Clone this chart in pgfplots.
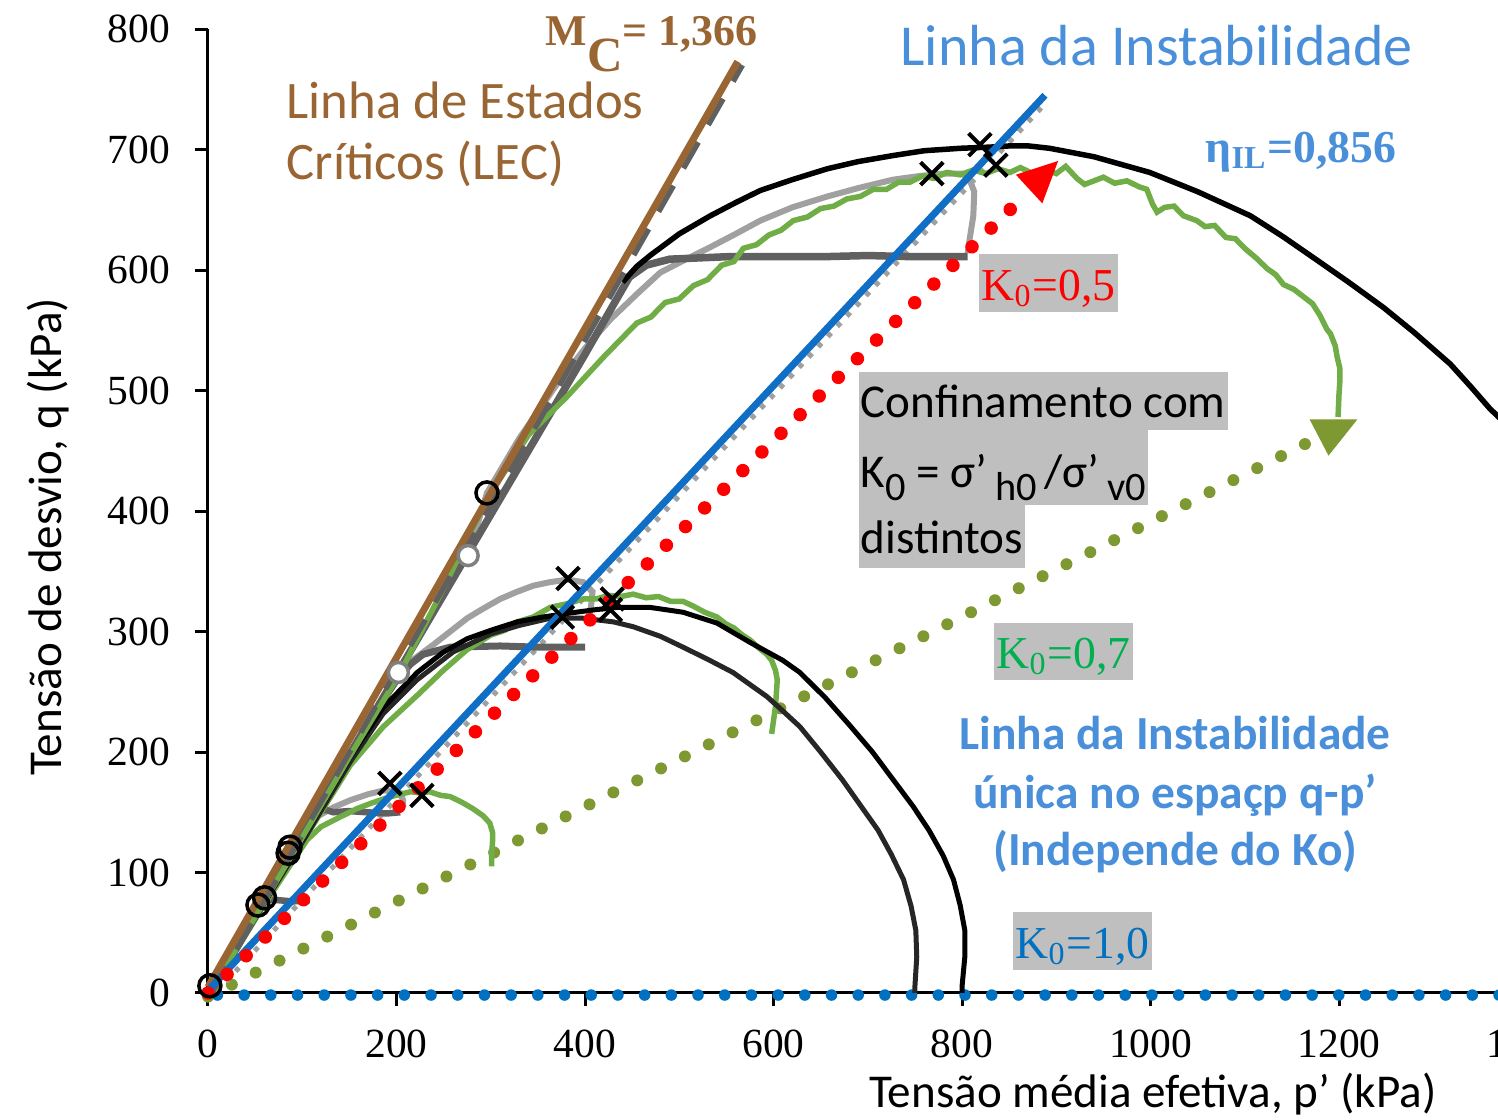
\documentclass[border=0pt]{standalone}
\usepackage{fontspec}
\setmainfont{Carlito}
\newfontfamily\tnr{Liberation Serif}
\usepackage{pgfplots}
\pgfplotsset{compat=1.18}

\definecolor{lecbrown}{RGB}{153,102,51}
\definecolor{ilblue}{RGB}{16,110,196}
\definecolor{txtblue}{RGB}{74,143,217}
\definecolor{kblue}{RGB}{0,112,192}
\definecolor{kgreen}{RGB}{0,176,80}
\definecolor{olive}{RGB}{126,152,50}
\definecolor{gcurve}{RGB}{112,173,71}
\definecolor{dgray}{RGB}{96,96,96}
\definecolor{lgray}{RGB}{160,160,160}
\definecolor{boxgray}{RGB}{191,191,191}

\newcommand\lsub[1]{\raisebox{-0.55ex}{\fontsize{11.5}{12}\selectfont #1}}

\begin{document}
\begin{tikzpicture}
\begin{axis}[
  scale only axis, width=131.95mm, height=96.4mm,
  xmin=0, xmax=1400, ymin=0, ymax=800,
  axis lines*=left, clip=false,
  axis line style={black, line width=0.3mm},
  tick align=outside, major tick length=1.25mm,
  tick style={black, line width=0.3mm},
  xtick={0,200,...,1400}, ytick={0,100,...,800},
  /pgf/number format/assume math mode=true,
  /pgf/number format/1000 sep={},
  tick label style={font=\tnr\fontsize{11.8}{13}\selectfont},
  xticklabel style={anchor=base, inner sep=0pt, yshift=-5.2mm},
  yticklabel style={anchor=east, inner sep=0pt, xshift=-2.5mm},
  label style={font=\fontsize{13.4}{16}\selectfont},
  xlabel={Tensão média efetiva, p’ (kPa)},
  xlabel style={at={(axis description cs:0.716,-0.1193)}, anchor=base, inner sep=0pt},
  ylabel={Tensão de desvio, q (kPa)},
  ylabel style={at={(axis description cs:-0.1107,0.473)}, anchor=base, inner sep=0pt},
]
\coordinate (O) at (axis cs:0,0);

% K0 stress paths (dotted)
\addplot[olive, line width=1.2mm, line cap=round, dash pattern=on 0pt off 2.67mm] coordinates {(0,-3) (1165,456)};
\addplot[kblue, line width=1.15mm, line cap=round, dash pattern=on 0pt off 2.67mm] coordinates {(10,-1.7) (1400,-1.7)};
\addplot[lgray, line width=0.5mm, dash pattern=on 0.5mm off 0.9mm] coordinates {(9,1) (887,737)};

% lower set
\addplot[dgray, line width=0.65mm] coordinates {(2,0)(40,52)(60,78)(75,77)(90,76)(108,77)};
\addplot[lgray, line width=0.6mm] coordinates {(2,0)(50,62)(98,127)(115,146)(133,154)(151,160)(170,165)(186,168)(198,168)(204,166)(207,160)(207,154)};
\addplot[dgray, line width=0.65mm] coordinates {(2,0)(40,52)(80,105)(112,150)(125,152)(133,150)(150,151)(168,150)(190,149)(204,150)};
\addplot[gcurve, line width=0.55mm] coordinates {(2,0)(50,62)(105,127)(120,138)(140,146)(158,153)(175,158)(190,162)(204,165)(215,167)(225,166)(235,167)(247,164)(257,163)(270,158)(281,153)(292,147)(299,141)(302,133)(302,127)(301,115)(301,105)};

% middle set
\addplot[lgray, line width=0.6mm] coordinates {(202,266)(220,278)(239,289)(257,300)(275,311)(292,319)(310,327)(328,333)(345,338)(363,341)(381,343)(398,341)(408,333)(406,318)(402,308)};
\addplot[dgray, line width=0.7mm] coordinates {(2,0)(60,78)(120,158)(170,224)(202,262)(215,273)(228,281)(257,287)(310,288)(350,287)(400,287)};
\addplot[gcurve, line width=0.55mm] coordinates {(2,0)(50,61)(100,125)(151,189)(186,221)(222,247)(250,268)(275,285)(300,297)(315,301)(328,308)(345,312)(363,320)(381,323)(398,327)(412,327)(425,330)(438,329)(451,331)(465,328)(478,329)(491,325)(504,325)(515,321)(527,316)(540,312)(550,306)(558,303)(567,297)(575,293)(585,286)(593,281)(598,276)(602,268)(604,260)(603,248)(602,237)(600,226)(598,215)};
\addplot[black!85, line width=0.5mm] coordinates {(2,0)(60,75)(100,125)(151,192)(186,232)(222,260)(260,283)(300,298)(330,305)(363,311)(398,311)(430,308)(451,304)(480,296)(504,287)(530,277)(557,266)(575,256)(593,246)(610,234)(628,221)(650,200)(673,177)(692,156)(711,135)(725,115)(738,94)(746,72)(751,52)(752,30)(750,5)(750,0)};
\addplot[black, line width=0.5mm] coordinates {(2,0)(60,75)(100,128)(130,168)(151,196)(186,237)(222,266)(250,283)(275,294)(300,301)(328,308)(355,312)(381,315)(410,318)(434,320)(469,320)(504,316)(540,307)(575,291)(610,276)(628,266)(655,245)(681,222)(705,200)(727,177)(748,155)(765,135)(780,114)(791,94)(798,73)(803,52)(803,30)(800,5)(800,0)};

% upper set
\addplot[lgray, line width=0.6mm] coordinates {(276,363)(296,415)(330,460)(370,505)(400,535)(427,559)(455,580)(480,598)(505,608)(533,619)(560,630)(586,641)(620,652)(657,661)(690,668)(727,675)(755,678)(780,680)(800,680)(808,675)(813,665)(812,645)(808,625)(806,614)};
\addplot[dgray, line width=0.75mm] coordinates {(2,0)(100,131)(200,264)(300,397)(400,530)(430,571)(447,594)(465,604)(490,609)(550,611)(600,611)(650,611)(700,612)(750,611)(806,611)};
\addplot[gcurve, line width=0.55mm] coordinates {(2,0)(50,63)(100,129)(150,196)(202,263)(250,336)(296,410)(340,463)(381,495)(420,528)(455,556)(470,561)(485,573)(500,576)(515,587)(530,592)(545,604)(558,607)(568,618)(582,621)(595,629)(608,633)(621,641)(636,644)(650,651)(664,653)(678,659)(692,661)(706,667)(720,667)(733,673)(745,673)(758,678)(770,676)(784,681)(798,679)(812,683)(825,680)(838,684)(851,681)(862,685)(875,680)(887,684)(900,680)(910,686)(922,676)(930,671)(940,674)(950,677)(962,672)(975,674)(988,669)(996,667)(1002,655)(1007,648)(1015,652)(1025,653)(1035,645)(1049,641)(1058,636)(1068,637)(1080,627)(1090,626)(1100,618)(1112,610)(1124,601)(1133,596)(1141,588)(1152,584)(1162,578)(1172,572)(1180,562)(1187,551)(1191,547)(1196,537)(1198,528)(1201,518)(1201,509)(1200,497)(1199,478)};
\addplot[black, line width=0.55mm] coordinates {(440,590)(455,603)(469,612)(500,630)(533,645)(560,656)(586,666)(620,675)(657,684)(690,690)(727,695)(760,699)(798,701)(830,702)(851,703)(870,703)(893,701)(940,694)(999,681)(1050,665)(1106,645)(1140,628)(1177,608)(1210,590)(1247,569)(1280,548)(1318,522)(1340,503)(1360,485)(1372,476)};

% critical state line
\addplot[dgray, line width=0.55mm, dash pattern=on 3mm off 2mm] coordinates {(4,0) (567,770)};
\addplot[lecbrown, line width=0.7mm] coordinates {(0,5) (562,773)};
% instability line
\addplot[ilblue, line width=0.7mm] coordinates {(0,2) (888,745)};

% K0 = 0.5 path and arrows
\addplot[red, line width=1.35mm, line cap=round, dash pattern=on 0pt off 2.67mm] coordinates {(0,0) (860,657)};
\addplot[fill=red, draw=red] coordinates {(858.5,678.8) (900.8,689.6) (884.9,656.4)} -- cycle;
\addplot[fill=olive, draw=olive] coordinates {(1170,475.5) (1218,475.5) (1189,447)} -- cycle;

% markers
\addplot[only marks, mark=o, mark size=1.1mm, black, line width=0.35mm] coordinates {(296,415)(87,121)(85,116)(60,79)(53,73)(2,6)};
\addplot[only marks, mark=*, mark size=1mm, draw=gray, fill=white, line width=0.35mm] coordinates {(202,266)(276,363)};
\addplot[only marks, mark=x, mark size=1.6mm, black, line width=0.4mm] coordinates {(819,704)(768,680)(836,687)(382,344)(376,312)(429,327)(427,318)(193,174)(227,164)};

% annotations
\node[anchor=base west, inner sep=0pt, text=lecbrown, font=\tnr\bfseries\fontsize{12.5}{14}\selectfont] at (axis cs:357.6,786.7) {M\raisebox{-0.6em}{\fontsize{14}{14}\selectfont C}= 1,366};
\node[anchor=base west, inner sep=0pt, text=lecbrown, font=\fontsize{15}{18}\selectfont] at (axis cs:82.8,726) {Linha de Estados};
\node[anchor=base west, inner sep=0pt, text=lecbrown, font=\fontsize{15}{18}\selectfont] at (axis cs:82.8,674.7) {Críticos (LEC)};
\node[anchor=base west, inner sep=0pt, text=txtblue, font=\fontsize{16.5}{19}\selectfont] at (axis cs:734,770) {Linha da Instabilidade};
\node[anchor=base west, inner sep=0pt, text=txtblue, font=\tnr\bfseries\fontsize{13}{15}\selectfont] at (axis cs:1057.8,689.6) {η\textsubscript{IL}=0,856};

\node[anchor=base west, fill=boxgray, inner xsep=0.3mm, inner ysep=0pt, text height=4.6mm, text depth=1.2mm, text=red, font=\tnr\fontsize{13}{15}\selectfont] at (axis cs:817,575) {K\textsubscript{0}=0,5};
\node[anchor=base west, fill=boxgray, inner xsep=0.3mm, inner ysep=0pt, text height=4.5mm, text depth=1.2mm, text=kgreen, font=\tnr\fontsize{13}{15}\selectfont] at (axis cs:832.9,269.7) {K\textsubscript{0}=0,7};
\node[anchor=base west, fill=boxgray, inner xsep=0.3mm, inner ysep=0pt, text height=4.6mm, text depth=1.2mm, text=kblue, font=\tnr\fontsize{13}{15}\selectfont] at (axis cs:853,29) {K\textsubscript{0}=1,0};

\node[anchor=base west, fill=boxgray, inner xsep=0.2mm, inner ysep=0pt, text height=4.6mm, text depth=1.2mm, font=\fontsize{13.4}{16}\selectfont] at (axis cs:689.7,477.2) {Confinamento com};
\node[anchor=base west, fill=boxgray, inner xsep=0.2mm, inner ysep=0pt, text height=5.8mm, text depth=1.7mm, font=\fontsize{13.4}{16}\selectfont] at (axis cs:689.7,419.1) {K\lsub{0} = σ’\,\lsub{h0}\,/σ’\,\lsub{v0}};
\node[anchor=base west, fill=boxgray, inner xsep=0.2mm, inner ysep=0pt, text height=4.8mm, text depth=1.5mm, font=\fontsize{13.4}{16}\selectfont] at (axis cs:689.7,365.1) {distintos};

\node[anchor=base, inner sep=0pt, text=txtblue, font=\bfseries\fontsize{13.5}{16}\selectfont] at (axis cs:1026,201.7) {Linha da Instabilidade};
\node[anchor=base, inner sep=0pt, text=txtblue, font=\bfseries\fontsize{13.5}{16}\selectfont] at (axis cs:1026,153.5) {única no espaçp q-p’};
\node[anchor=base, inner sep=0pt, text=txtblue, font=\bfseries\fontsize{13.5}{16}\selectfont] at (axis cs:1026,105.4) {(Independe do Ko)};
\end{axis}
\pgfresetboundingbox
\path[use as bounding box] ([shift={(-20.8mm,-12.7mm)}]O) rectangle ([shift={(129mm,99.3mm)}]O);
\end{tikzpicture}
\end{document}
